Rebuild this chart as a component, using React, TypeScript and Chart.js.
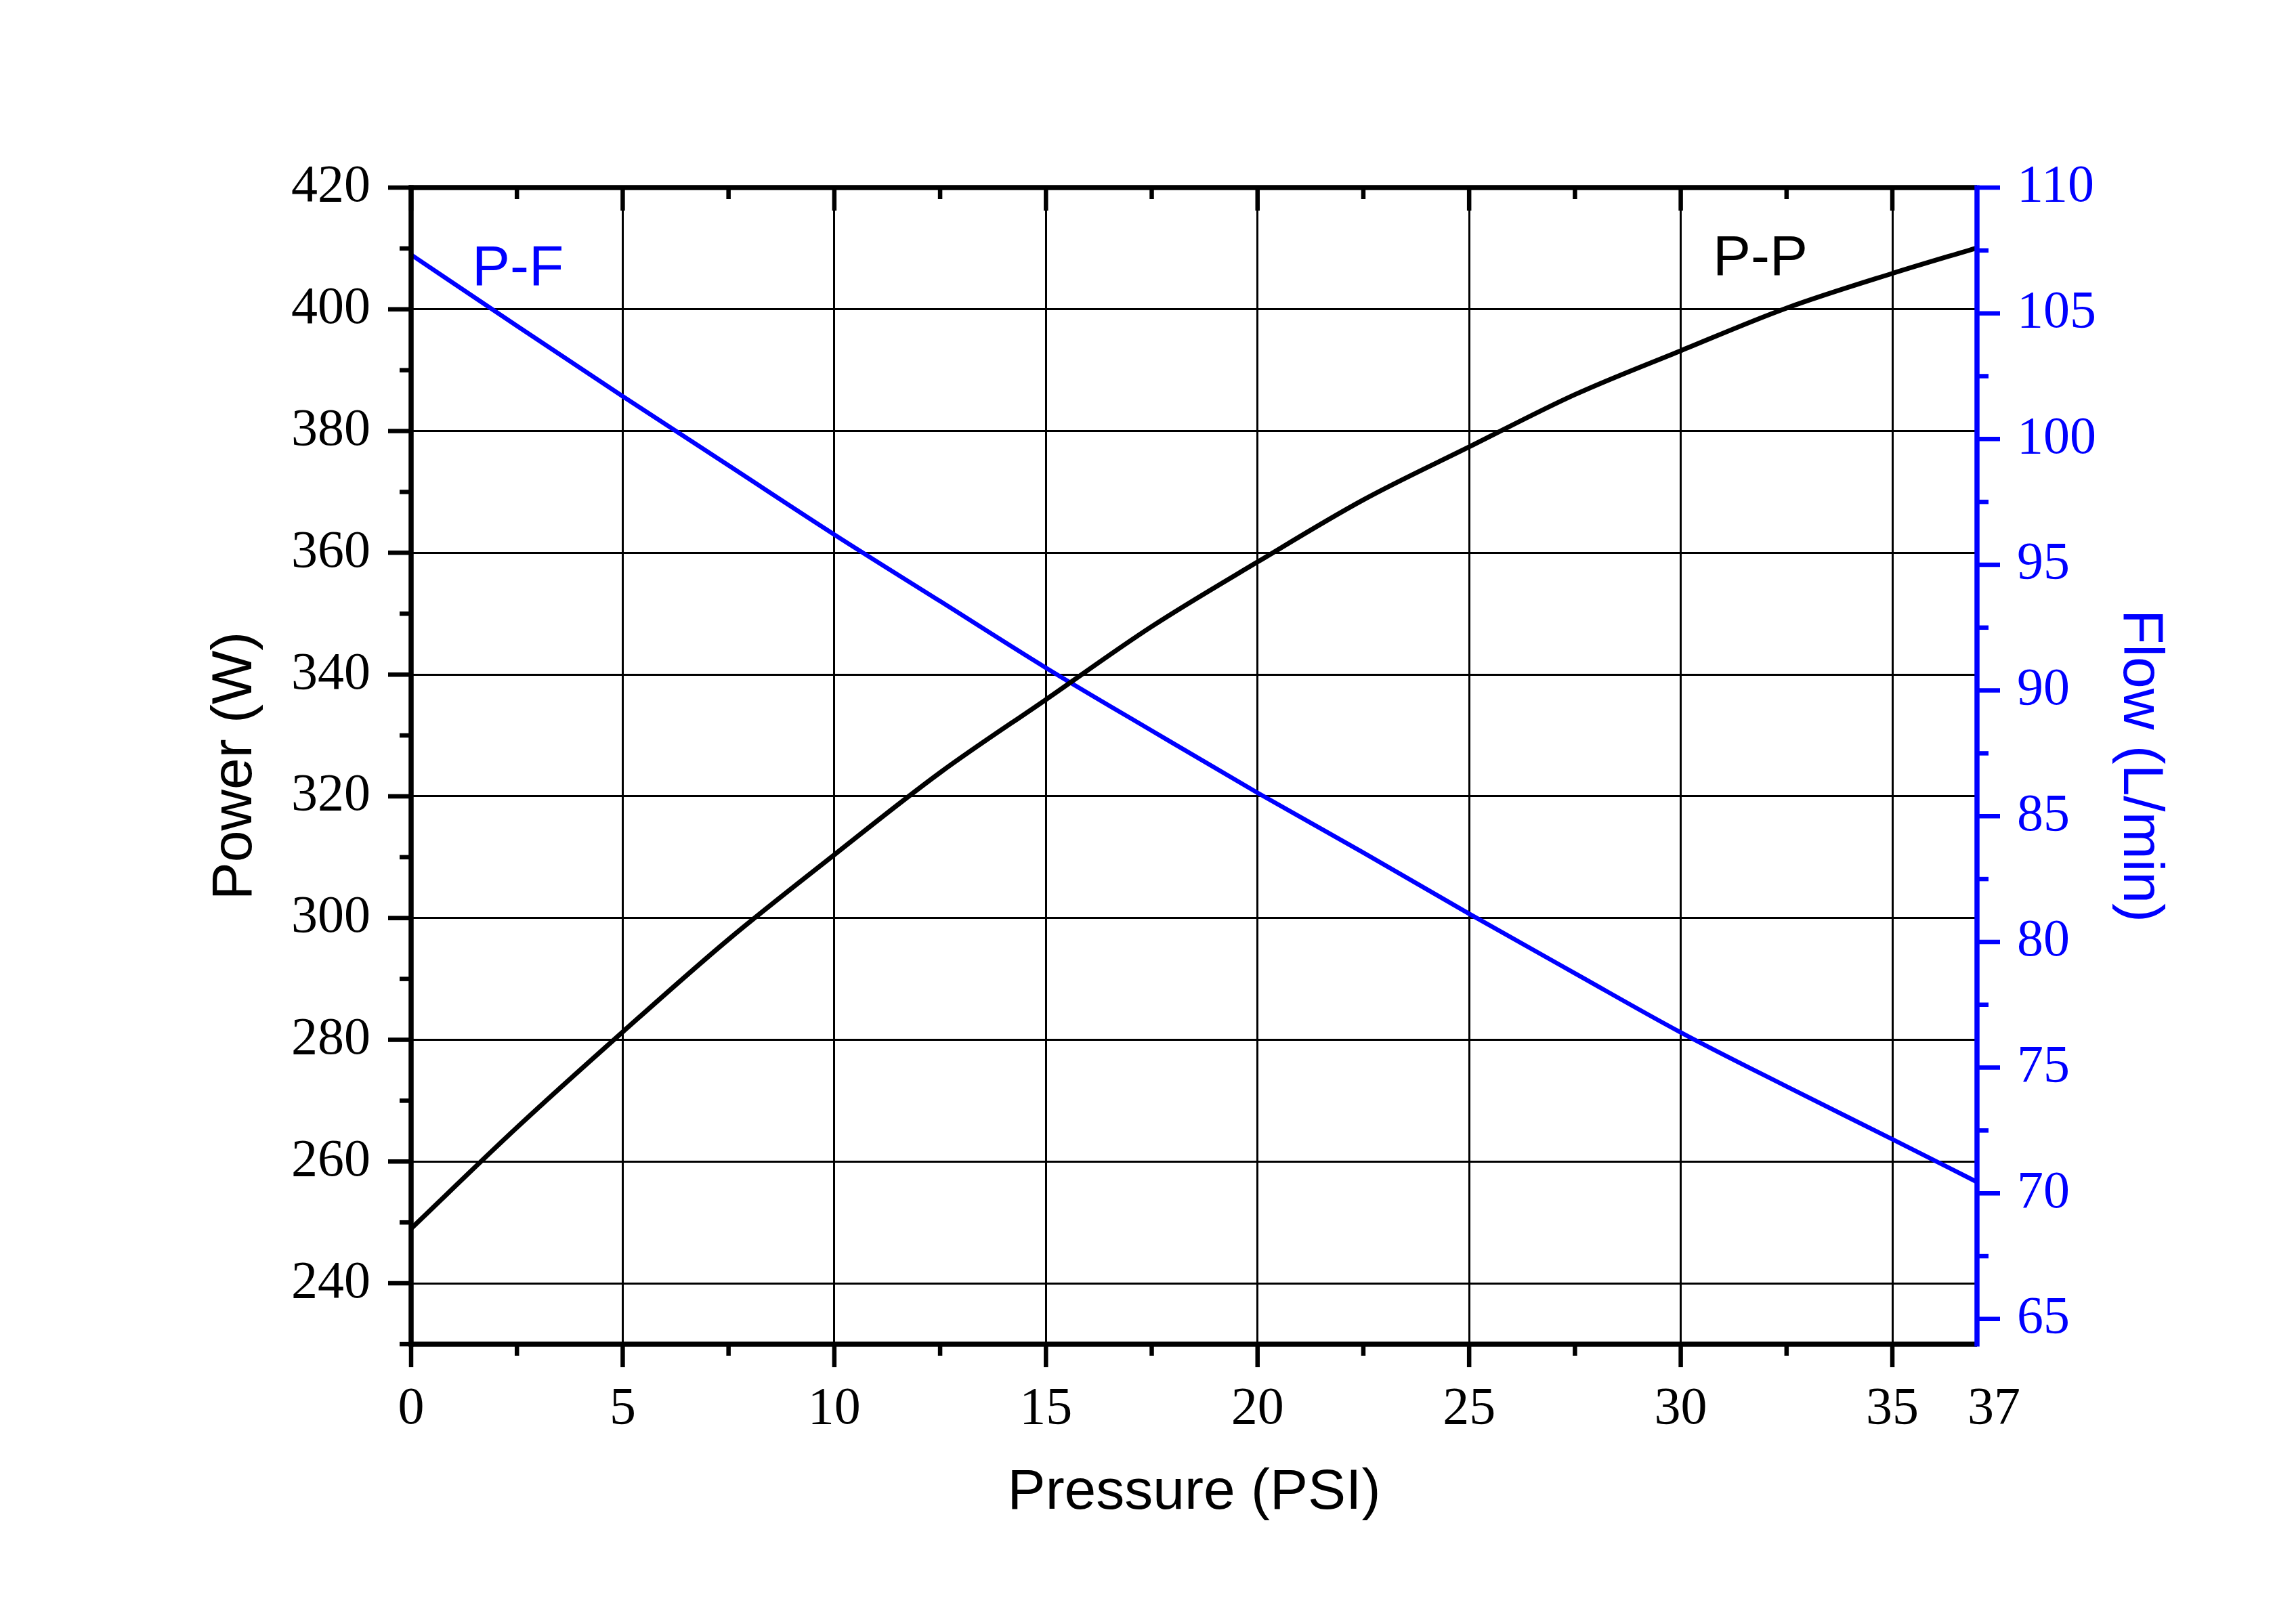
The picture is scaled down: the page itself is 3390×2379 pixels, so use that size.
import React, { useEffect, useRef } from "react";
import { Chart, registerables } from "chart.js";

Chart.register(...registerables);

// ---- data ----
const pressure = [0, 2.5, 5, 7.5, 10, 12.5, 15, 17.5, 20, 22.5, 25, 27.5, 30, 32.5, 35, 37];
const power = [249.0, 265.6, 281.3, 296.5, 310.4, 323.9, 335.9, 347.9, 358.5, 368.7, 377.4, 386.0, 393.2, 400.2, 405.9, 410.1];
const flow = [107.33, 104.5, 101.7, 98.95, 96.2, 93.55, 90.9, 88.4, 85.93, 83.55, 81.12, 78.75, 76.4, 74.25, 72.15, 70.45];

// ---- axis ticks ----
const xLabelTicks = [0, 5, 10, 15, 20, 25, 30, 35, 37];
const xMajorTicks = [0, 5, 10, 15, 20, 25, 30, 35];
const xMinorTicks = [2.5, 7.5, 12.5, 17.5, 22.5, 27.5, 32.5];
const xEndLabel = 37;
const powerTicks = [240, 260, 280, 300, 320, 340, 360, 380, 400, 420];
const powerMinorTicks = [230, 250, 270, 290, 310, 330, 350, 370, 390, 410];
const flowTicks = [65, 70, 75, 80, 85, 90, 95, 100, 105, 110];
const flowMinorTicks = [67.5, 72.5, 77.5, 82.5, 87.5, 92.5, 97.5, 102.5, 107.5];

// ---- curve labels ----
const curveLabels = [
  { text: "P-F", x: 1.44, y: 404.0, color: "#0000FF" },
  { text: "P-P", x: 30.76, y: 405.6, color: "#000000" },
];

const W = 3390;
const H = 2379;
const BLUE = "#0000FF";
const BLACK = "#000000";
const SERIF = '"Liberation Serif", "Times New Roman", serif';
const SANS = '"Liberation Sans", Arial, sans-serif';
const TICK_SIZE = 78;
const X_LABEL_PAD = 50;

const framePlugin = {
  id: "originFrame",
  afterDatasetsDraw(chart: any) {
    const { ctx, chartArea, scales } = chart;
    const { left, right, top, bottom } = chartArea;
    const xs = scales.x;
    const yl = scales.y;
    const yr = scales.y1;
    const line = (x1: number, y1: number, x2: number, y2: number) => {
      ctx.beginPath();
      ctx.moveTo(x1, y1);
      ctx.lineTo(x2, y2);
      ctx.stroke();
    };
    const MAJ = 34;
    const MIN = 17;
    ctx.save();
    ctx.lineCap = "butt";
    ctx.lineWidth = 6.5;
    ctx.strokeStyle = BLACK;
    // x ticks: bottom outward, top inward
    xMajorTicks.forEach((v) => {
      const px = xs.getPixelForValue(v);
      line(px, bottom, px, bottom + MAJ);
      line(px, top, px, top + MAJ);
    });
    xMinorTicks.forEach((v) => {
      const px = xs.getPixelForValue(v);
      line(px, bottom, px, bottom + MIN);
      line(px, top, px, top + MIN);
    });
    // left ticks outward
    powerTicks.forEach((v) => {
      const py = yl.getPixelForValue(v);
      line(left - MAJ, py, left, py);
    });
    powerMinorTicks.forEach((v) => {
      const py = yl.getPixelForValue(v);
      line(left - MIN, py, left, py);
    });
    // frame
    ctx.lineWidth = 7.5;
    line(left - 3.5, top, right, top);
    line(left - 3.5, bottom, right, bottom);
    line(left, top - 3.5, left, bottom + 3.5);
    // right axis in blue
    ctx.strokeStyle = BLUE;
    line(right, top - 3.5, right, bottom + 3.5);
    ctx.lineWidth = 6.5;
    flowTicks.forEach((v) => {
      const py = yr.getPixelForValue(v);
      line(right, py, right + MAJ, py);
    });
    flowMinorTicks.forEach((v) => {
      const py = yr.getPixelForValue(v);
      line(right, py, right + MIN, py);
    });
    // end label of the x axis, set a little to the right as in the original
    ctx.font = `${TICK_SIZE}px ${SERIF}`;
    ctx.fillStyle = BLACK;
    ctx.textAlign = "center";
    ctx.textBaseline = "middle";
    ctx.fillText(String(xEndLabel), xs.getPixelForValue(xEndLabel) + 25, bottom + X_LABEL_PAD + TICK_SIZE * 0.6);
    // curve labels
    ctx.font = `84px ${SANS}`;
    ctx.textAlign = "left";
    ctx.textBaseline = "alphabetic";
    curveLabels.forEach((a) => {
      ctx.fillStyle = a.color;
      ctx.fillText(a.text, xs.getPixelForValue(a.x), yl.getPixelForValue(a.y));
    });
    ctx.restore();
  },
};

export default function App() {
  const ref = useRef<HTMLCanvasElement | null>(null);

  useEffect(() => {
    if (!ref.current) return;
    const chart = new Chart(ref.current, {
      type: "line",
      data: {
        datasets: [
          {
            label: "P-P",
            data: pressure.map((x, i) => ({ x, y: power[i] })),
            yAxisID: "y",
            borderColor: BLACK,
            borderWidth: 7,
            pointRadius: 0,
            fill: false,
            cubicInterpolationMode: "monotone",
          },
          {
            label: "P-F",
            data: pressure.map((x, i) => ({ x, y: flow[i] })),
            yAxisID: "y1",
            borderColor: BLUE,
            borderWidth: 6.5,
            pointRadius: 0,
            fill: false,
            cubicInterpolationMode: "monotone",
          },
        ],
      },
      options: {
        responsive: false,
        animation: false,
        layout: { padding: { left: 297.6, right: 180.6, top: 277, bottom: 123.6 } },
        plugins: { legend: { display: false }, tooltip: { enabled: false } },
        scales: {
          x: {
            type: "linear",
            position: "bottom",
            min: 0,
            max: 37,
            afterBuildTicks: (s: any) => {
              s.ticks = xLabelTicks.map((v) => ({ value: v }));
            },
            afterFit: (s: any) => {
              s.height = 270.4;
            },
            ticks: {
              autoSkip: false,
              maxRotation: 0,
              padding: X_LABEL_PAD,
              color: BLACK,
              font: { family: SERIF, size: TICK_SIZE },
              callback: (v: any) => (v === xEndLabel ? "" : String(v)),
            },
            grid: {
              color: (c: any) =>
                c.tick && (c.tick.value === 0 || c.tick.value === 37) ? "rgba(0,0,0,0)" : BLACK,
              lineWidth: 3,
              drawTicks: false,
            },
            border: { display: false },
            title: {
              display: true,
              text: "Pressure (PSI)",
              color: BLACK,
              font: { family: SANS, size: 84 },
              padding: 0,
            },
          },
          y: {
            type: "linear",
            position: "left",
            min: 230,
            max: 420,
            afterBuildTicks: (s: any) => {
              s.ticks = powerTicks.map((v) => ({ value: v }));
            },
            afterFit: (s: any) => {
              s.width = 309.4;
            },
            ticks: {
              padding: 60,
              color: BLACK,
              font: { family: SERIF, size: TICK_SIZE },
            },
            grid: {
              color: (c: any) => (c.tick && c.tick.value === 420 ? "rgba(0,0,0,0)" : BLACK),
              lineWidth: 3,
              drawTicks: false,
            },
            border: { display: false },
            title: {
              display: true,
              text: "Power (W)",
              color: BLACK,
              font: { family: SANS, size: 84 },
              padding: 0,
            },
          },
          y1: {
            type: "linear",
            position: "right",
            min: 64,
            max: 110,
            afterBuildTicks: (s: any) => {
              s.ticks = flowTicks.map((v) => ({ value: v }));
            },
            afterFit: (s: any) => {
              s.width = 290.4;
            },
            ticks: {
              padding: 59,
              color: BLUE,
              font: { family: SERIF, size: TICK_SIZE },
            },
            grid: { display: false, drawTicks: false },
            border: { display: false },
            title: {
              display: true,
              text: "Flow (L/min)",
              color: BLUE,
              font: { family: SANS, size: 84 },
              padding: 0,
            },
          },
        },
      } as any,
      plugins: [framePlugin],
    });
    return () => chart.destroy();
  }, []);

  return (
    <canvas
      ref={ref}
      width={W}
      height={H}
      style={{ position: "absolute", left: 0, top: 0, width: `${W}px`, height: `${H}px`, background: "#fff" }}
    />
  );
}
